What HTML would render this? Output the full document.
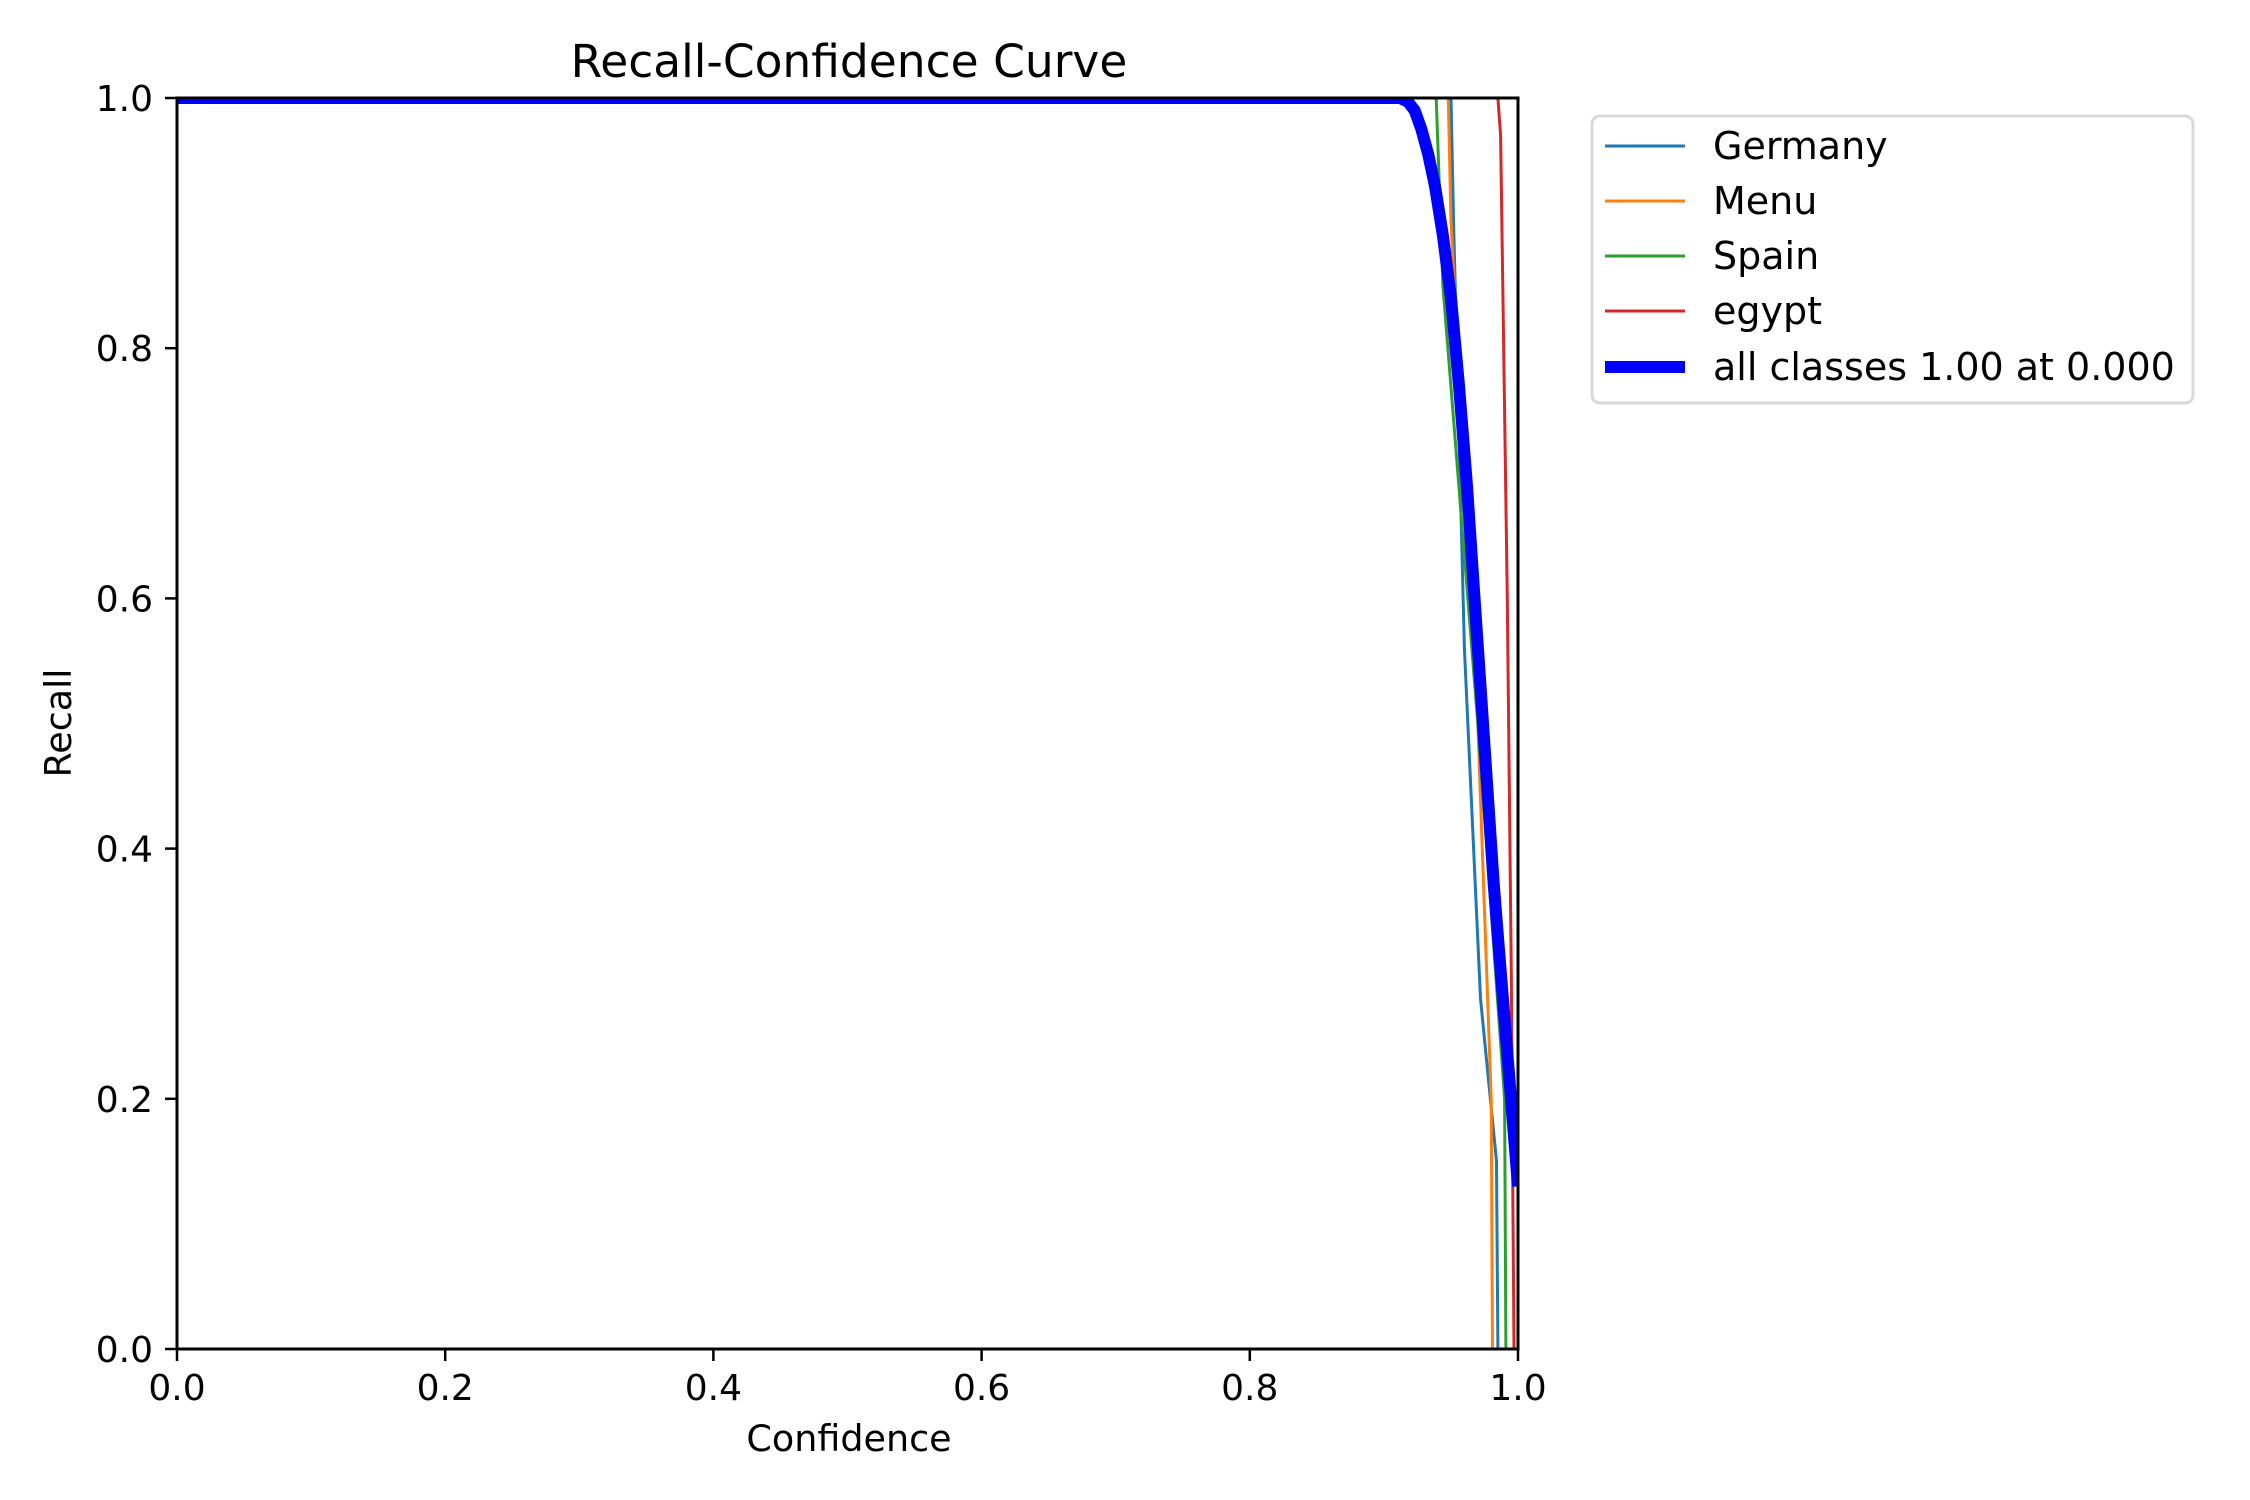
<!DOCTYPE html>
<html><head><meta charset="utf-8">
<style>
html,body{margin:0;padding:0;background:#fff;}
svg{display:block;font-family:"DejaVu Sans","Liberation Sans",sans-serif;}
</style></head>
<body>
<svg id="chart" width="2250" height="1500" viewBox="0 0 2250 1500" xmlns="http://www.w3.org/2000/svg">
<rect width="2250" height="1500" fill="#fff"/>
<text x="849" y="77" font-size="45.5" text-anchor="middle">Recall-Confidence Curve</text>
<text x="849" y="1451" font-size="36.5" text-anchor="middle">Confidence</text>
<text x="0" y="0" font-size="36.5" text-anchor="middle" transform="translate(71,723) rotate(-90)">Recall</text>
<g id="plot"></g>
<g id="axes"></g>
<g id="legend"></g>
</svg>
<script>
const seriesNames = ["Germany","Menu","Spain","egypt"];
const seriesColors = ["#1f77b4","#ff7f0e","#2ca02c","#d62728"];
const germanyX = [0,0.950,0.952,0.960,0.972,0.984,0.985,1.0];
const germanyY = [1,1,0.90,0.56,0.28,0.15,0,0];
const menuX = [0,0.948,0.950,0.970,0.980,0.981,1.0];
const menuY = [1,1,0.90,0.50,0.20,0,0];
const spainX = [0,0.939,0.944,0.970,0.990,0.991,1.0];
const spainY = [1,1,0.85,0.50,0.20,0,0];
const egyptX = [0,0.985,0.987,0.992,0.995,0.996,0.997,1.0];
const egyptY = [1,1,0.97,0.60,0.30,0.15,0,0];
const allX = [0,0.912,0.918,0.923,0.928,0.933,0.938,0.944,0.950,0.956,0.962,0.967,0.972,0.977,0.982,0.988,0.994,1.0];
const allY = [1,1,0.997,0.99,0.975,0.955,0.93,0.89,0.84,0.77,0.69,0.61,0.53,0.45,0.37,0.29,0.21,0.13];
const xTicks = [0,0.2,0.4,0.6,0.8,1.0];
const yTicks = [0,0.2,0.4,0.6,0.8,1.0];
const tickLabels = ["0.0","0.2","0.4","0.6","0.8","1.0"];
const allLabel = "all classes 1.00 at 0.000";

const NS="http://www.w3.org/2000/svg";
const L=177,R=1518,T=98,B=1349;
function sx(v){return L+v*(R-L);}
function sy(v){return B-v*(B-T);}
function mk(tag,attrs,parent){const e=document.createElementNS(NS,tag);for(const k in attrs)e.setAttribute(k,attrs[k]);parent.appendChild(e);return e;}
const plot=document.getElementById('plot'),axes=document.getElementById('axes'),leg=document.getElementById('legend');
const clip=mk('clipPath',{id:'clp'},plot);mk('rect',{x:L,y:T,width:R-L,height:B-T},clip);
function path(xs,ys){return xs.map((x,i)=>(i?'L':'M')+sx(x).toFixed(1)+','+sy(ys[i]).toFixed(1)).join(' ');}
const data=[[germanyX,germanyY],[menuX,menuY],[spainX,spainY],[egyptX,egyptY]];
data.forEach((d,i)=>{
  const p=mk('path',{d:path(d[0],d[1]),fill:'none',stroke:seriesColors[i],'stroke-width':3,'clip-path':'url(#clp)'},plot);
  
  
});
const pa=mk('path',{d:path(allX,allY),fill:'none',stroke:'#0000ff','stroke-width':12,'stroke-linejoin':'round','clip-path':'url(#clp)'},plot);


const frame=mk('rect',{x:L,y:T,width:R-L,height:B-T,fill:'none',stroke:'#000','stroke-width':3},axes);


xTicks.forEach((v,i)=>{
  mk('line',{x1:sx(v),x2:sx(v),y1:B,y2:B+12,stroke:'#000','stroke-width':2.5},axes);
  const t=mk('text',{x:sx(v),y:1400,'font-size':36,'text-anchor':'middle'},axes);
  t.textContent=tickLabels[i];
  
  
});
yTicks.forEach((v,i)=>{
  mk('line',{x1:L-12,x2:L,y1:sy(v),y2:sy(v),stroke:'#000','stroke-width':2.5},axes);
  const t=mk('text',{x:153,y:sy(v)+13,'font-size':36,'text-anchor':'end'},axes);
  t.textContent=tickLabels[i];
  
  
});
const box=mk('rect',{x:1592,y:116,width:601,height:287,rx:8,fill:'#fff',stroke:'#d9d9d9','stroke-width':3},leg);


const rowsY=[146,201,256,311,367];
const names=seriesNames.concat([allLabel]);
const cols=seriesColors.concat(['#0000ff']);
names.forEach((n,i)=>{
  const ln=mk('line',{x1:1605,x2:1685,y1:rowsY[i],y2:rowsY[i],stroke:cols[i],'stroke-width':i==4?12:3},leg);
  
  
  const t=mk('text',{x:1713,y:rowsY[i]+13,'font-size':38},leg);
  t.textContent=n;
  
  
});
</script>
</body></html>
